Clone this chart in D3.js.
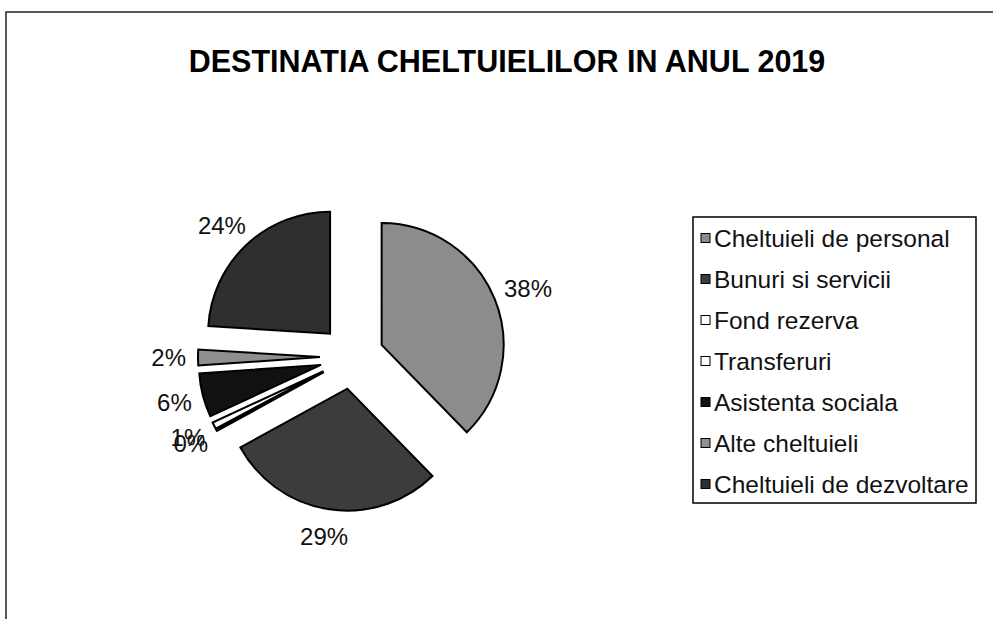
<!DOCTYPE html>
<html>
<head>
<meta charset="utf-8">
<script src="https://cdn.jsdelivr.net/npm/d3@7"></script>
<style>
  body { margin: 0; background: #fff; }
  text { font-family: "Liberation Sans", Arial, sans-serif; }
</style>
</head>
<body>
<svg class="viz" width="993" height="619"></svg>
<script>
// Data
var categories = ["Cheltuieli de personal", "Bunuri si servicii", "Fond rezerva", "Transferuri",
                  "Asistenta sociala", "Alte cheltuieli", "Cheltuieli de dezvoltare"];
var shares = [37.7, 29.3, 0.2, 0.9, 5.8, 2.1, 24.0];
var percentLabels = ["38%", "29%", "0%", "1%", "6%", "2%", "24%"];
var fills = ["#8c8c8c", "#3c3c3c", "#ffffff", "#ffffff", "#111111", "#8f8f8f", "#2f2f2f"];
var title = "DESTINATIA CHELTUIELILOR IN ANUL 2019";

var dataset = categories.map(function(c, i) {
  return { name: c, value: shares[i], label: percentLabels[i], fill: fills[i] };
});

var svg = d3.select(".viz");

// frame (only top and left edges show in the scan)
svg.append("path")
    .attr("d", "M6,619 L6,12 L993,12")
    .attr("fill", "none")
    .attr("stroke", "#222")
    .attr("stroke-width", 1.5);

svg.append("text")
    .text(title)
    .attr("x", 507)
    .attr("y", 72)
    .attr("text-anchor", "middle")
    .attr("font-size", "30.5px")
    .attr("font-weight", "bold")
    .attr("fill", "#000");

// pie
var cx = 352, cy = 357, radius = 122, explode = 32;

var pie = d3.pie()
    .sort(null)
    .value(function(d) { return d.value; });

var arc = d3.arc()
    .innerRadius(0)
    .outerRadius(radius);

var arcs = pie(dataset);

var g = svg.append("g")
    .attr("transform", "translate(" + cx + "," + cy + ")");

arcs.forEach(function(d) {
  var mid = (d.startAngle + d.endAngle) / 2;
  d.dx = Math.sin(mid);
  d.dy = -Math.cos(mid);
});

g.selectAll("path.slice")
    .data(arcs)
  .enter().append("path")
    .attr("class", "slice")
    .attr("transform", function(d) { return "translate(" + d.dx * explode + "," + d.dy * explode + ")"; })
    .attr("d", arc)
    .attr("fill", function(d) { return d.data.fill; })
    .attr("stroke", "#000")
    .attr("stroke-width", 2)
    .attr("stroke-linejoin", "miter");

// percent labels outside each slice
var labels = g.selectAll("text.pct")
    .data(arcs)
  .enter().append("text")
    .attr("class", "pct")
    .text(function(d) { return d.data.label; })
    .attr("font-size", "24px")
    .attr("fill", "#111")
    .attr("text-anchor", "middle")
    .attr("dominant-baseline", "central");

labels.each(function(d) {
  var w = this.getComputedTextLength();
  var r = radius + 8;
  var x = d.dx * (explode + r) + d.dx * (w / 2 + 4);
  var y = d.dy * (explode + r) + d.dy * 19;
  d3.select(this).attr("x", x).attr("y", y);
});

// legend
var legX = 693, legY = 217, legW = 283, legH = 286, rowH = 41;

var legend = svg.append("g")
    .attr("transform", "translate(" + legX + "," + legY + ")");

legend.append("rect")
    .attr("width", legW)
    .attr("height", legH)
    .attr("fill", "#fff")
    .attr("stroke", "#000")
    .attr("stroke-width", 1.5);

var item = legend.selectAll("g.item")
    .data(dataset)
  .enter().append("g")
    .attr("class", "item")
    .attr("transform", function(d, i) { return "translate(0," + (21 + i * rowH) + ")"; });

item.append("rect")
    .attr("x", 8)
    .attr("y", -4.5)
    .attr("width", 9)
    .attr("height", 9)
    .attr("fill", function(d) { return d.fill; })
    .attr("stroke", "#000")
    .attr("stroke-width", 1);

item.append("text")
    .text(function(d) { return d.name; })
    .attr("x", 21)
    .attr("y", 0)
    .attr("dominant-baseline", "central")
    .attr("font-size", "24.5px")
    .attr("fill", "#111");
</script>
</body>
</html>
